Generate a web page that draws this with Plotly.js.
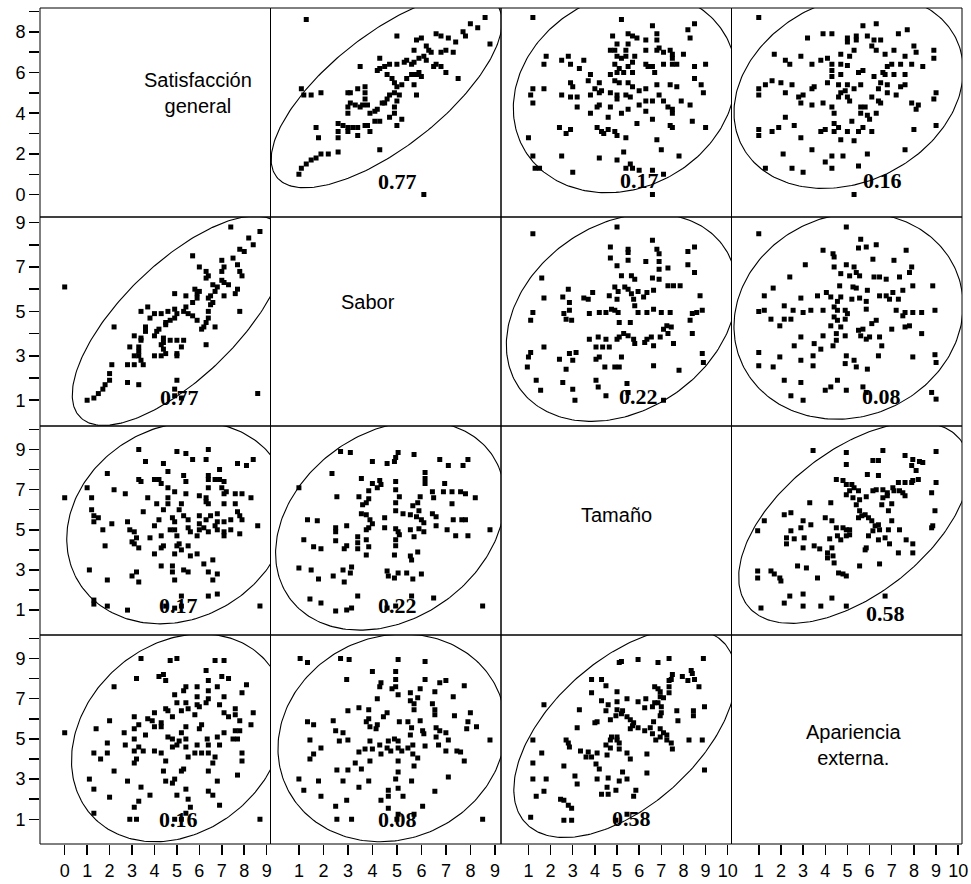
<!DOCTYPE html>
<html><head><meta charset="utf-8">
<script src="https://cdn.plot.ly/plotly-3.0.1.min.js"></script>
<style>html,body{margin:0;padding:0;background:#fff}#chart{width:971px;height:884px}</style>
</head><body><div id="chart"></div>
<script>
// Variables (matrix order)
const varNames = ['Satisfacción<br>general', 'Sabor', 'Tamaño', 'Apariencia<br>externa.'];

// Pair A: Sabor (x) vs Satisfacción (y)
const pairA_sabor = [1.3,8.6,8.0,8.3,7.7,7.8,7.1,6.6,6.8,5.0, 6.0,5.8,5.7,6.2,6.3,6.4,6.8,7.0,7.3,7.4,
 8.8,7.5,7.0,6.6,6.5,6.8,6.2,6.1,5.9,5.7, 5.6,5.4,5.3,5.0,4.7,4.5,4.3,4.3,3.5,4.2,
 4.6,4.8,4.9,5.0,5.2,5.4,5.6,5.8,5.9,6.0, 5.7,5.8,4.9,4.7,4.6,4.5,4.4,4.2,4.1,3.9,
 3.8,3.6,3.3,3.1,3.0,3.1,3.4,3.7,3.7,3.7, 3.5,3.0,3.0,5.1,5.0,4.9,4.9,4.7,4.3,4.1,
 3.7,3.4,3.2,3.0,2.8,2.6,5.2,5.0,3.8,3.9, 3.4,3.0,2.6,2.6,1.7,1.8,1.1,1.2,1.5,1.9,
 2.6,2.2,1.9,1.7,1.5,1.3,1.1,1.0,4.3,6.1];
const pairA_satisf = [8.6,8.7,8.4,8.2,8.0,7.8,7.7,7.9,7.8,7.8, 7.7,7.6,7.1,7.3,7.1,7.0,7.0,7.1,7.0,7.5,
 7.4,5.7,6.0,6.4,6.3,6.3,6.6,6.8,6.7,6.5, 6.4,6.6,6.5,6.4,6.4,6.3,6.2,6.7,6.3,6.1,
 5.9,5.7,5.5,5.3,5.4,5.7,5.9,5.9,6.0,5.8, 5.4,4.9,5.0,4.9,4.7,4.5,4.5,4.2,4.1,4.0,
 4.4,4.4,4.4,4.5,5.0,5.0,5.2,5.3,5.0,4.7, 4.3,4.3,4.0,4.9,4.6,4.3,4.0,3.8,3.6,3.6,
 3.4,3.3,3.3,3.3,3.4,3.5,3.7,3.4,3.4,3.1, 2.9,3.1,3.1,2.8,3.3,2.8,5.2,4.9,4.9,5.0,
 2.1,2.0,2.0,1.8,1.7,1.5,1.3,1.0,2.2,0.0];

// Pair B: Tamaño (x) vs Satisfacción (y)
const pairB_tamano = [1.2,5.2,6.6,8.5,8.2,8.3,4.8,5.5,5.7,5.9, 6.3,6.8,6.8,5.0,5.5,4.7,4.9,5.4,6.3,6.8,
 6.9,7.1,7.4,7.5,8.0,7.5,1.8,1.7,2.8,2.5, 2.9,3.3,3.5,5.0,5.2,5.4,5.8,5.7,4.9,5.1,
 5.5,5.0,5.3,5.7,6.3,6.4,6.6,6.7,7.1,7.5, 7.7,8.5,9.0,8.5,3.8,3.7,2.9,3.0,4.2,4.0,
 4.3,4.7,4.9,5.1,5.5,5.7,6.0,6.3,6.8,7.4, 7.7,6.9,7.1,6.6,6.3,5.6,5.4,5.0,5.0,4.7,
 4.2,3.8,2.5,2.9,3.2,3.2,1.2,1.7,1.1,1.2, 4.2,4.1,4.7,3.8,4.6,5.2,5.5,6.3,6.0,6.6,
 7.3,7.5,7.5,7.9,8.8,8.9,8.3,7.4,7.5,8.4, 9.0,5.9,2.4,2.9,2.7,4.1,4.3,4.4,4.6,4.9,
 5.0,5.4,1.0,6.8,1.2,2.5,4.2,5.0,5.3,5.6, 7.0,7.8,1.3,1.5,3.0,5.4,5.7,6.0,6.6,7.1, 6.6];
const pairB_satisf = [8.7,8.6,8.3,8.4,8.1,7.7,7.8,7.9,7.8,7.7, 7.6,7.9,7.6,7.4,7.4,7.1,7.1,7.1,7.1,7.1,
 7.2,7.0,7.1,6.9,6.9,6.7,6.8,6.4,6.8,6.6, 6.4,6.2,6.6,6.8,6.7,6.8,6.8,6.5,6.4,6.2,
 6.3,6.0,6.0,6.0,6.4,6.3,6.3,6.0,6.4,6.4, 6.4,6.3,6.4,5.7,5.9,5.6,5.5,5.3,5.5,5.2,
 5.1,5.9,5.6,5.5,5.5,5.3,5.1,5.2,5.4,5.4, 5.3,4.9,4.6,4.6,4.6,4.8,4.9,4.7,4.9,5.0,
 5.0,4.9,4.9,4.8,4.8,4.3,5.2,5.2,4.9,4.5, 4.4,4.3,4.3,4.0,3.8,4.0,4.2,4.1,4.4,3.7,
 4.3,4.0,4.2,4.6,5.4,5.0,4.4,3.4,3.3,3.6, 3.3,3.5,3.3,3.2,3.0,3.3,3.1,3.0,3.2,3.1,
 2.9,2.8,2.8,2.7,1.9,1.9,1.8,1.7,2.1,1.5, 2.2,1.9,1.3,1.3,1.1,1.3,1.3,1.2,1.2,1.0, 0.0];

// Pair C: Apariencia externa (x) vs Satisfacción (y)
const pairC_apariencia = [1.0,5.7,6.3,7.3,7.7,3.9,4.3,5.0,5.4,5.4, 5.0,5.9,6.2,6.5,6.1,6.3,6.7,7.1,7.6,8.0,
 8.1,8.9,8.9,8.4,7.9,7.4,7.0,6.8,6.6,6.7, 7.1,7.6,7.6,7.4,6.8,7.2,6.4,6.1,6.4,6.5,
 6.3,5.8,5.6,5.6,5.9,6.0,5.7,5.5,6.1,5.2, 5.1,5.0,4.7,4.9,4.6,4.3,4.4,4.4,4.6,5.0,
 4.0,3.9,3.4,2.9,2.8,3.0,3.4,3.5,2.2,2.5, 2.0,1.6,1.3,1.0,1.0,3.2,1.7,2.2,2.4,2.9,
 3.4,3.8,4.1,4.3,4.7,4.7,5.0,5.1,5.3,5.5, 5.7,4.3,4.3,4.1,4.6,5.0,5.3,4.7,5.6,6.2,
 6.5,6.8,7.9,8.1,8.2,9.0,8.9,8.0,9.0,2.2, 1.9,1.6,1.0,1.0,2.6,2.9,3.8,4.4,4.7,5.3,
 3.4,2.1,4.3,4.8,5.9,7.6,1.3,2.5,3.0,4.0, 4.3,5.5,5.3];
const pairC_satisf = [8.7,8.3,8.4,7.9,8.1,7.9,7.9,7.7,7.8,7.6, 7.5,7.8,7.6,7.6,7.3,7.1,6.9,7.1,6.8,7.3,
 7.0,7.1,6.7,6.3,6.4,6.4,6.4,6.3,6.0,5.9, 5.9,5.9,5.4,5.3,5.0,4.9,5.2,4.8,4.6,4.5,
 4.0,4.3,4.3,4.0,3.9,3.7,3.3,3.1,3.1,3.6, 4.6,4.8,5.0,5.1,4.8,4.3,4.0,3.5,3.3,3.1,
 3.2,4.5,4.4,4.5,4.8,4.9,5.2,5.3,5.0,5.4, 5.5,5.6,5.4,5.2,4.9,7.7,6.9,6.6,6.4,6.8,
 6.4,6.6,6.7,6.4,6.9,6.4,6.35,6.8,7.1,6.0, 6.1,6.1,5.8,5.5,5.4,5.4,5.2,5.9,5.4,5.8,
 5.5,5.4,4.5,4.2,4.4,5.0,4.7,3.2,3.4,3.8, 3.3,3.1,3.2,2.9,3.4,2.8,3.1,3.1,2.7,2.65,
 2.2,2.0,1.9,1.9,2.0,2.2,1.3,1.3,1.1,1.6, 1.3,1.4,0.0];

// Pair D: Tamaño (x) vs Sabor (y)
const pairD_tamano = [1.2,5.0,6.6,8.5,8.2,4.7,5.5,5.5,6.8,6.9, 4.7,5.5,6.3,6.9,8.2,8.5,5.0,5.2,5.65,5.8,
 6.9,7.3,6.6,6.9,7.3,7.55,7.85,1.6,2.8,2.55, 2.85,3.5,3.7,3.9,1.7,4.9,5.05,5.35,5.5,5.65,
 5.95,6.35,6.65,5.75,5.8,6.2,5.0,4.65,4.75,4.9, 5.05,5.1,5.6,5.95,6.35,6.65,7.0,7.4,8.4,8.6,
 8.85,8.3,8.4,7.25,7.45,7.1,7.3,7.55,6.95,6.55, 6.35,6.25,6.65,5.75,5.8,5.5,5.3,5.1,5.0,4.5,
 4.35,4.05,4.15,3.75,4.65,4.5,4.2,3.75,2.85,2.95, 2.6,2.7,1.2,1.1,1.7,1.1,1.0,0.95,2.4,2.85,
 3.15,3.0,2.7,4.05,4.2,4.45,4.9,5.2,5.1,6.65, 7.8,8.85,8.9,1.35,1.55,2.55,3.0,3.1,4.05,4.15,
 4.5,5.45,5.5,7.1,8.75];
const pairD_sabor = [8.5,8.8,8.2,7.9,7.7,7.9,7.8,7.65,7.8,7.6, 7.4,7.3,7.25,7.25,7.1,6.75,7.05,6.6,6.6,6.45,
 6.9,6.95,6.5,6.45,6.15,6.15,6.15,6.5,6.0,5.65, 5.4,5.6,5.55,5.85,5.6,6.1,5.9,6.1,6.0,5.8,
 5.9,5.85,5.95,5.55,5.25,5.65,5.55,5.7,5.1,5.05, 4.95,4.5,4.5,4.95,4.95,5.1,4.95,4.95,4.9,4.95,
 5.05,4.6,4.0,4.35,4.3,4.2,4.0,3.55,3.85,3.85, 3.75,3.6,3.45,3.75,3.55,3.9,4.0,3.85,3.75,3.75,
 3.4,3.4,3.85,3.75,3.4,4.95,4.95,4.9,5.05,4.6, 4.9,4.65,4.95,4.6,3.4,3.15,2.95,2.5,2.85,3.1,
 3.15,2.8,2.4,2.85,2.95,2.5,2.5,2.95,2.5,2.55, 2.35,3.1,2.7,1.9,1.45,1.8,1.5,1.0,1.9,1.6,
 1.2,1.75,1.35,1.0,5.7];

// Pair E: Apariencia externa (x) vs Sabor (y)
const pairE_apariencia = [1.0,4.95,5.6,5.5,5.85,6.3,7.65,3.9,4.35,4.4, 6.15,7.1,7.9,7.8,3.1,4.4,4.95,5.3,5.4,5.1,
 4.7,5.55,6.2,6.45,6.75,7.35,7.95,8.85,7.05,7.5, 6.9,7.3,6.45,6.75,5.9,5.55,5.85,5.2,4.7,4.55,
 4.25,4.05,3.65,4.65,5.25,5.4,2.4,1.65,1.25,2.9, 2.15,2.55,3.0,3.35,3.9,4.4,4.55,4.9,5.0,5.85,
 7.2,7.6,7.95,8.35,8.95,7.5,7.8,7.6,7.0,8.35, 6.3,6.1,5.7,5.5,5.6,5.85,6.0,6.45,6.55,4.4,
 4.55,4.25,4.9,4.7,4.9,4.5,4.5,4.35,3.9,3.8, 3.5,2.9,2.6,3.45,1.0,1.25,1.55,1.95,2.15,2.45,
 1.0,1.0,1.65,1.95,2.9,3.45,4.95,5.3,4.9,5.4, 5.9,6.4,7.95,8.95,9.0,2.15,2.9,2.45,3.0,4.0,
 4.25,4.55,4.95,5.7,5.85,8.8,9.0];
const pairE_sabor = [8.5,8.8,8.25,7.85,7.9,8.0,7.75,7.75,7.6,7.45, 7.35,7.3,7.0,6.75,7.1,7.0,7.1,7.0,6.75,6.6,
 6.7,6.6,6.55,6.55,6.45,6.55,6.15,6.15,5.85,5.95, 5.55,5.55,5.7,5.7,5.95,5.6,5.45,5.55,5.65,5.45,
 5.65,5.85,5.7,6.15,6.1,6.05,6.55,6.05,5.7,5.6, 5.25,5.05,4.95,5.05,5.05,5.2,5.05,5.05,4.9,5.1,
 5.05,4.95,4.95,4.95,5.05,4.8,4.35,4.3,4.2,4.0, 4.6,4.45,4.2,4.15,3.9,3.75,3.85,3.85,3.45,4.75,
 4.6,4.35,4.65,4.3,3.9,4.0,3.7,3.45,3.9,3.3, 3.55,3.85,3.45,3.0,5.0,5.05,4.65,4.35,4.65,4.65,
 3.15,2.55,2.5,2.95,2.8,2.55,3.0,2.8,2.65,2.5, 2.4,3.0,2.95,3.05,2.7,1.9,1.8,1.2,1.0,1.45,
 1.6,1.9,1.45,1.6,1.35,1.35,1.05];

// Pair F: Apariencia externa (x) vs Tamaño (y)
const pairF_apariencia = [3.45,4.95,4.95,6.6,9.0,6.15,6.4,7.6,7.95,8.25, 8.4,7.9,8.1,7.95,8.2,7.9,7.6,7.3,9.0,5.9,
 6.4,4.5,4.8,4.95,5.2,5.3,5.5,5.1,4.95,5.25, 5.55,5.85,6.15,6.3,6.6,6.8,7.05,7.1,7.35,7.5,
 7.6,6.8,6.6,6.55,7.0,8.8,8.95,8.85,8.8,5.4, 5.55,5.65,5.5,5.8,5.95,6.1,6.25,6.4,6.45,6.85,
 7.0,7.35,6.15,5.95,5.85,5.8,6.4,6.7,6.9,7.65, 7.95,7.95,7.3,6.85,4.25,3.3,2.15,2.45,3.0,3.35,
 2.9,4.0,4.3,4.5,4.8,4.95,5.1,4.55,4.7,4.95, 5.1,4.2,4.3,4.1,2.45,2.6,2.25,2.25,3.05,3.0,
 3.5,3.75,4.1,4.35,4.4,2.75,3.15,4.6,4.8,4.95, 5.55,6.45,3.65,0.95,0.95,1.55,1.7,1.95,2.0,1.25,
 0.95,2.4,3.0,4.3,6.7,1.1,2.15,3.0,3.8,4.95];
const pairF_tamano = [8.95,8.85,8.25,8.95,8.9,8.45,8.45,8.7,8.5,8.4, 8.35,8.2,7.95,7.45,7.5,7.35,7.35,7.35,7.35,7.75,
 7.7,7.5,7.45,7.25,7.25,7.1,6.95,6.95,6.75,6.6, 6.5,6.65,6.95,7.0,7.0,6.85,7.1,6.95,6.95,6.85,
 6.7,6.7,6.6,6.25,6.3,6.85,5.95,5.2,5.1,6.25, 5.95,5.7,5.6,5.75,5.6,5.45,5.2,5.25,5.0,5.0,
 5.45,5.0,4.95,4.7,4.1,4.0,4.5,4.6,4.3,4.5, 4.3,3.85,3.85,5.95,6.35,6.35,5.75,5.85,5.45,5.25,
 5.1,5.6,5.45,5.1,5.1,5.0,5.0,4.7,4.5,4.7, 4.75,4.55,4.1,3.85,4.95,4.55,4.6,4.3,4.6,4.1,
 4.2,4.05,3.6,3.7,3.35,3.2,3.1,2.85,2.8,2.7, 3.2,3.3,2.6,2.95,2.6,2.95,2.8,2.6,2.45,5.45,
 4.95,1.7,1.8,1.6,1.7,1.1,1.35,1.2,1.2,1.2];

// Correlations shown in each pair
const corrA = '0.77', corrB = '0.17', corrC = '0.16', corrD = '0.22', corrE = '0.08', corrF = '0.58';

// Tick values per variable
const ticksSatisf = [0,1,2,3,4,5,6,7,8,9];
const ticksSabor = [1,2,3,4,5,6,7,8,9];
const ticksTamano = [1,2,3,4,5,6,7,8,9,10];
const ticksApariencia = [1,2,3,4,5,6,7,8,9,10];
const yLabelsSatisf = ['0','','2','','4','','6','','8',''];
const yLabelsOdd9 = ['1','','3','','5','','7','','9'];
const yLabelsOdd10 = ['1','','3','','5','','7','','9',''];

// i = row variable (y of upper panel), j = column variable (x of upper panel)
const pairs = [
  {i:0, j:1, x:pairA_sabor, y:pairA_satisf, r:corrA},
  {i:0, j:2, x:pairB_tamano, y:pairB_satisf, r:corrB},
  {i:0, j:3, x:pairC_apariencia, y:pairC_satisf, r:corrC},
  {i:1, j:2, x:pairD_tamano, y:pairD_sabor, r:corrD},
  {i:1, j:3, x:pairE_apariencia, y:pairE_sabor, r:corrE},
  {i:2, j:3, x:pairF_apariencia, y:pairF_tamano, r:corrF}
];

// bivariate-normal density ellipse computed from the data
const ellipseChi2 = 6.5;
function densityEllipse(x, y) {
  const n = x.length;
  const mx = x.reduce((a,b)=>a+b,0)/n, my = y.reduce((a,b)=>a+b,0)/n;
  let sxx=0, syy=0, sxy=0;
  for (let k=0;k<n;k++){const dx=x[k]-mx, dy=y[k]-my; sxx+=dx*dx; syy+=dy*dy; sxy+=dx*dy;}
  sxx/=(n-1); syy/=(n-1); sxy/=(n-1);
  const a=Math.sqrt(sxx), b=sxy/a, d=Math.sqrt(Math.max(syy-b*b,1e-9));
  const c=Math.sqrt(ellipseChi2);
  const ex=[], ey=[];
  for (let k=0;k<=240;k++){const t=2*Math.PI*k/240, u=Math.cos(t), v=Math.sin(t);
    ex.push(mx+c*a*u); ey.push(my+c*(b*u+d*v));}
  return {ex, ey};
}

const axName = (k, p) => p + (k===0 ? '' : (k+1));
const traces = [];
const annotations = [];
const shapes = [];

// label positions (fractions of the panel)
const corrPosUpper = {'0,1':[0.549,0.17],'0,2':[0.603,0.175],'0,3':[0.653,0.175],'1,2':[0.595,0.14],'1,3':[0.65,0.14],'2,3':[0.666,0.105]};
const corrPosLower = {'1,0':[0.607,0.134],'2,0':[0.599,0.139],'2,1':[0.553,0.139],'3,0':[0.599,0.115],'3,1':[0.553,0.115],'3,2':[0.568,0.124]};

const markerStyle = {symbol:'square', size:5, color:'#000', line:{width:0}};
const ellStyle = {color:'#000', width:1.1};
const corrFont = {family:'Liberation Serif, Times New Roman, serif', size:22, color:'#000', weight:'bold'};

pairs.forEach(p => {
  const el = densityEllipse(p.x, p.y);
  traces.push({type:'scatter', mode:'markers', x:p.x, y:p.y, xaxis:axName(p.j,'x'), yaxis:axName(p.i,'y'), marker:markerStyle, hoverinfo:'skip'});
  traces.push({type:'scatter', mode:'lines', x:el.ex, y:el.ey, xaxis:axName(p.j,'x'), yaxis:axName(p.i,'y'), line:ellStyle, hoverinfo:'skip'});
  traces.push({type:'scatter', mode:'markers', x:p.y, y:p.x, xaxis:axName(p.i,'x'), yaxis:axName(p.j,'y'), marker:markerStyle, hoverinfo:'skip'});
  traces.push({type:'scatter', mode:'lines', x:el.ey, y:el.ex, xaxis:axName(p.i,'x'), yaxis:axName(p.j,'y'), line:ellStyle, hoverinfo:'skip'});
  const pu = corrPosUpper[p.i+','+p.j], pl = corrPosLower[p.j+','+p.i];
  annotations.push({xref:axName(p.j,'x')+' domain', yref:axName(p.i,'y')+' domain', x:pu[0], y:pu[1], text:p.r, showarrow:false, font:corrFont, xanchor:'center', yanchor:'middle'});
  annotations.push({xref:axName(p.i,'x')+' domain', yref:axName(p.j,'y')+' domain', x:pl[0], y:pl[1], text:p.r, showarrow:false, font:corrFont, xanchor:'center', yanchor:'middle'});
});

// diagonal labels
const diagPos = [[0.686,0.595],[0.423,0.593],[0.5,0.574],[0.53,0.474]];
varNames.forEach((name,k) => {
  annotations.push({xref:axName(k,'x')+' domain', yref:axName(k,'y')+' domain', x:diagPos[k][0], y:diagPos[k][1], text:name, showarrow:false,
    font:{family:'Liberation Sans, Arial, sans-serif', size:20, color:'#000'}, xanchor:'center', yanchor:'middle', align:'center'});
});

// panel frames
for (let r=0;r<4;r++) for (let c=0;c<4;c++) {
  shapes.push({type:'rect', xref:axName(c,'x')+' domain', yref:axName(r,'y')+' domain', x0:0, x1:1, y0:0, y1:1, line:{color:'#000', width:1}, layer:'above'});
}

const ranges = [[-1.1,9.17],[-0.16,9.25],[-0.24,10.17],[-0.23,10.17]];
const xTicks = [ticksSatisf, ticksSabor, ticksTamano, ticksApariencia];
const yTexts = [yLabelsSatisf, yLabelsOdd9, yLabelsOdd10, yLabelsOdd10];
const tickFont = {family:'Liberation Sans, Arial, sans-serif', size:18, color:'#000'};
const common = {showgrid:false, zeroline:false, showline:false, ticks:'outside', ticklen:10, tickwidth:1.5, tickcolor:'#000', tickfont:tickFont, fixedrange:true};

const layout = {
  width:971, height:884, margin:{l:40, r:9, t:8, b:40},
  paper_bgcolor:'#fff', plot_bgcolor:'#fff', showlegend:false, hovermode:false,
  annotations, shapes
};
for (let k=0;k<4;k++) {
  layout[k===0?'xaxis':'xaxis'+(k+1)] = Object.assign({}, common, {
    domain:[k/4,(k+1)/4], range:ranges[k], anchor:'y4', tickmode:'array', tickvals:xTicks[k], ticktext:xTicks[k].map(String)});
  layout[k===0?'yaxis':'yaxis'+(k+1)] = Object.assign({}, common, {
    domain:[(3-k)/4,(4-k)/4], range:ranges[k], anchor:'x', tickmode:'array', tickvals:xTicks[k], ticktext:yTexts[k]});
}

Plotly.newPlot('chart', traces, layout, {displayModeBar:false, staticPlot:true});
</script>
</body></html>
